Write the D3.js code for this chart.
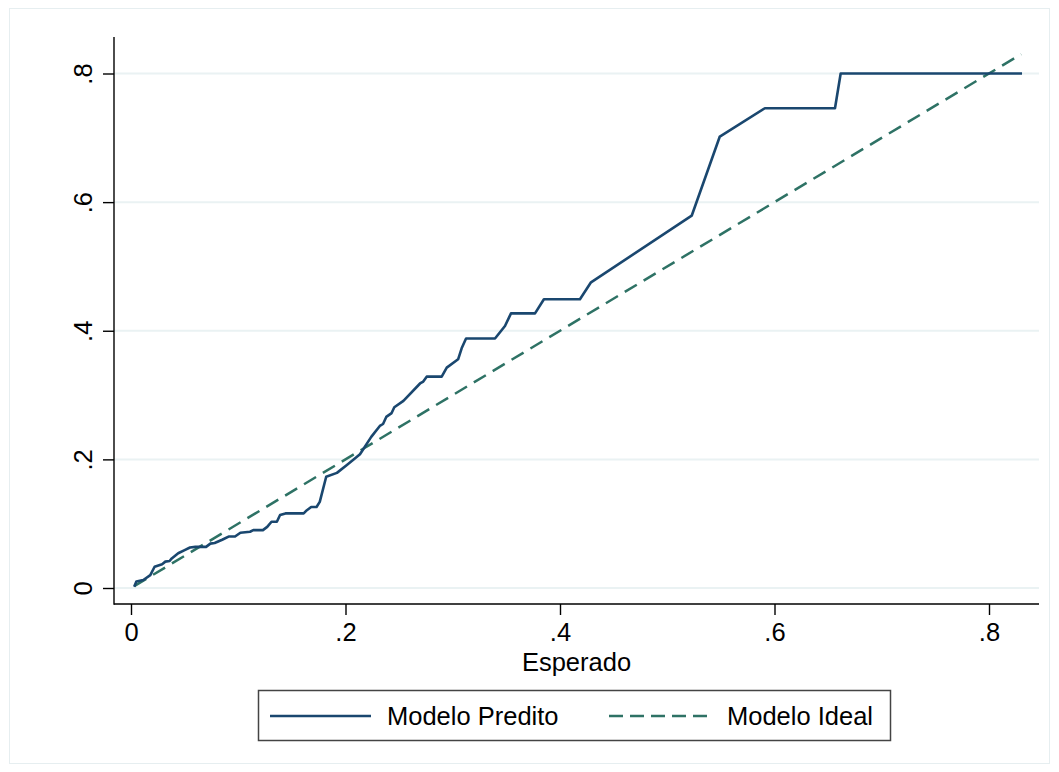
<!DOCTYPE html>
<html>
<head>
<meta charset="utf-8">
<script src="https://cdn.jsdelivr.net/npm/d3@7"></script>
<style>
  body { margin: 0; background: #fff; }
  svg { display: block; font-family: "Liberation Sans", Arial, sans-serif; }
</style>
</head>
<body>
<script>
// Modelo Predito (expected vs predicted)
const esperado = [0.003, 0.005, 0.0115, 0.018, 0.022, 0.029, 0.032, 0.036, 0.038, 0.044, 0.050, 0.055,
  0.060, 0.070, 0.074, 0.078, 0.085, 0.091, 0.097, 0.102, 0.111, 0.114, 0.123, 0.127, 0.131, 0.136,
  0.139, 0.144, 0.161, 0.164, 0.168, 0.173, 0.176, 0.182, 0.192, 0.201, 0.207, 0.2135, 0.217, 0.224,
  0.232, 0.235, 0.238, 0.243, 0.2455, 0.254, 0.2695, 0.2725, 0.2757, 0.2897, 0.2944, 0.305, 0.3083,
  0.3124, 0.3394, 0.3487, 0.3543, 0.3767, 0.385, 0.4186, 0.4289, 0.5228, 0.549, 0.591, 0.6564, 0.6617, 0.8308];
const predito = [0.002, 0.010, 0.0125, 0.020, 0.033, 0.037, 0.041, 0.042, 0.046, 0.054, 0.059, 0.063,
  0.064, 0.064, 0.069, 0.070, 0.075, 0.080, 0.080, 0.086, 0.0875, 0.090, 0.090, 0.095, 0.103, 0.103,
  0.1135, 0.116, 0.116, 0.121, 0.126, 0.126, 0.134, 0.173, 0.179, 0.191, 0.199, 0.208, 0.217, 0.235,
  0.252, 0.255, 0.266, 0.272, 0.281, 0.291, 0.318, 0.321, 0.3286, 0.3286, 0.3426, 0.3556, 0.3727,
  0.388, 0.388, 0.4074, 0.427, 0.427, 0.449, 0.449, 0.4753, 0.5789, 0.702, 0.746, 0.746, 0.800, 0.800];
// Modelo Ideal (y = x)
const idealX = [0.003, 0.83];
const idealY = [0.003, 0.83];

const xTicks = [0, 0.2, 0.4, 0.6, 0.8];
const yTicks = [0, 0.2, 0.4, 0.6, 0.8];
const legendLabels = ["Modelo Predito", "Modelo Ideal"];

const W = 1059, H = 772;
const navy = "#1a476f", teal = "#2e7265";
const fs = 25.5;
const fmt = d => d === 0 ? "0" : d3.format(".1f")(d).replace(/^0/, "");

const svg = d3.select("body").append("svg").attr("width", W).attr("height", H);

// outer graph region border
svg.append("rect").attr("x", 9.5).attr("y", 8.5).attr("width", 1040).attr("height", 755)
  .attr("fill", "#fff").attr("stroke", "#e6eef0").attr("stroke-width", 1);

const x = d3.scaleLinear().domain([0, 0.8]).range([131, 989]);
const y = d3.scaleLinear().domain([0, 0.8]).range([588, 73.5]);
const plotL = 114, plotR = 1039, plotT = 37, plotB = 604;

// gridlines
svg.append("g").selectAll("line").data(yTicks).join("line")
  .attr("x1", plotL).attr("x2", plotR)
  .attr("y1", d => y(d)).attr("y2", d => y(d))
  .attr("stroke", "#eaf2f3").attr("stroke-width", 2);

// axes
const xAxis = svg.append("g").attr("transform", `translate(0,${plotB})`)
  .call(d3.axisBottom(x).tickValues(xTicks).tickFormat(fmt).tickSize(11).tickPadding(8));
const yAxis = svg.append("g").attr("transform", `translate(${plotL},0)`)
  .call(d3.axisLeft(y).tickValues(yTicks).tickFormat(fmt).tickSize(11).tickPadding(6));
[xAxis, yAxis].forEach(g => {
  g.select(".domain").remove();
  g.selectAll(".tick line").attr("stroke", "#000").attr("stroke-width", 1.4);
  g.selectAll(".tick text").attr("fill", "#000").attr("font-size", fs)
    .attr("font-family", "'Liberation Sans', Arial, sans-serif");
});
yAxis.selectAll(".tick text")
  .attr("transform", "rotate(-90)").attr("x", 0).attr("y", -31)
  .attr("dy", "0.35em").attr("text-anchor", "middle");

svg.append("line").attr("x1", plotL).attr("x2", plotL).attr("y1", plotT).attr("y2", plotB + 0.7)
  .attr("stroke", "#000").attr("stroke-width", 1.4);
svg.append("line").attr("x1", plotL).attr("x2", plotR).attr("y1", plotB).attr("y2", plotB)
  .attr("stroke", "#000").attr("stroke-width", 1.4);

svg.append("text").attr("x", (plotL + plotR) / 2).attr("y", 671)
  .attr("text-anchor", "middle").attr("font-size", fs).text("Esperado");

// series
const line = d3.line().x(d => x(d[0])).y(d => y(d[1]));
svg.append("path").datum(d3.zip(idealX, idealY)).attr("d", line)
  .attr("fill", "none").attr("stroke", teal).attr("stroke-width", 2.5)
  .attr("stroke-dasharray", "14,8");
svg.append("path").datum(d3.zip(esperado, predito)).attr("d", line)
  .attr("fill", "none").attr("stroke", navy).attr("stroke-width", 2.6)
  .attr("stroke-linejoin", "round");

// legend
const lg = svg.append("g");
lg.append("rect").attr("x", 258.5).attr("y", 690.5).attr("width", 632).attr("height", 50)
  .attr("fill", "#fff").attr("stroke", "#444").attr("stroke-width", 1.5);
const ly = 716;
lg.append("line").attr("x1", 270).attr("x2", 371).attr("y1", ly).attr("y2", ly)
  .attr("stroke", navy).attr("stroke-width", 2.6);
lg.append("line").attr("x1", 609).attr("x2", 710).attr("y1", ly).attr("y2", ly)
  .attr("stroke", teal).attr("stroke-width", 2.5).attr("stroke-dasharray", "14,7");
lg.selectAll("text").data(legendLabels).join("text")
  .attr("x", (d, i) => i === 0 ? 387 : 727).attr("y", ly).attr("dy", "0.35em")
  .attr("font-size", fs).text(d => d);
</script>
</body>
</html>
